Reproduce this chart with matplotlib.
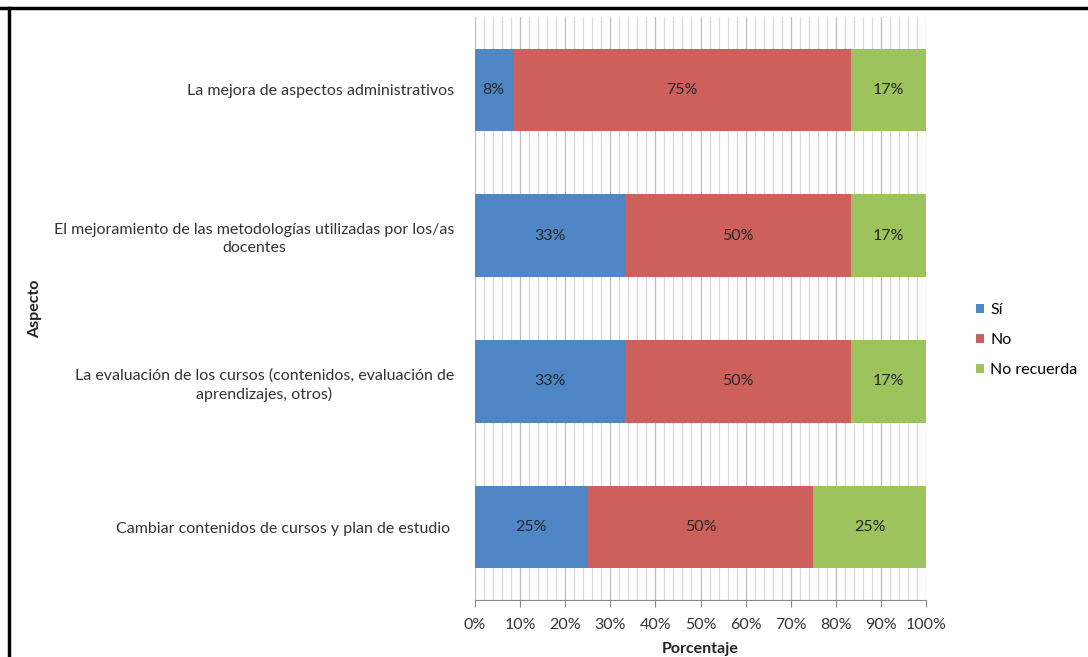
import numpy as np
import matplotlib.pyplot as plt
from matplotlib.lines import Line2D
from matplotlib.ticker import MultipleLocator, PercentFormatter

# datos (porcentajes)
aspectos = [
    'La mejora de aspectos administrativos',
    'El mejoramiento de las metodologías utilizadas por los/as\ndocentes',
    'La evaluación de los cursos (contenidos, evaluación de\naprendizajes, otros)',
    'Cambiar contenidos de cursos y plan de estudio ',
]
si = [8.33, 33.33, 33.33, 25]
no = [75, 50, 50, 50]
no_recuerda = [16.67, 16.67, 16.67, 25]
etiquetas_si = ['8%', '33%', '33%', '25%']
etiquetas_no = ['75%', '50%', '50%', '50%']
etiquetas_nr = ['17%', '17%', '17%', '25%']

plt.rcParams['font.family'] = ['Lato', 'DejaVu Sans']
fs = 11.5

fig = plt.figure(figsize=(10.88, 6.57), dpi=100)
ax = fig.add_axes([475/1088, 1-600/657, 451/1088, 583/657])

y = np.arange(len(aspectos))
alto = 0.565
colores = ['#4F86C6', '#CD605B', '#9DC35C']

series = [(si, 'Sí', etiquetas_si), (no, 'No', etiquetas_no),
          (no_recuerda, 'No recuerda', etiquetas_nr)]
izq = np.zeros(len(aspectos))
for (vals, nombre, etqs), c in zip(series, colores):
    barras = ax.barh(y, vals, left=izq, height=alto, color=c, label=nombre, zorder=3)
    ax.bar_label(barras, labels=etqs, label_type='center', fontsize=fs, color='#262626')
    izq += np.array(vals)

ax.set_xlim(0, 100)
ax.set_ylim(-0.5, 3.5)
ax.invert_yaxis()
ax.set_yticks(y)
ax.set_yticklabels(aspectos, fontsize=fs, color='#333333', multialignment='center',
                   linespacing=1.35)
ax.tick_params(axis='y', length=0, pad=15)

ax.xaxis.set_major_locator(MultipleLocator(10))
ax.xaxis.set_minor_locator(MultipleLocator(2))
ax.xaxis.set_major_formatter(PercentFormatter(decimals=0))
ax.tick_params(axis='x', which='major', length=5, color='#888888', labelsize=fs,
               labelcolor='#333333', pad=8)
ax.tick_params(axis='x', which='minor', length=0)
ax.grid(axis='x', which='major', color='#bdbdbd', linewidth=0.9, zorder=0)
ax.grid(axis='x', which='minor', color='#dadada', linewidth=0.9, zorder=0)

for s in ['top', 'right', 'left']:
    ax.spines[s].set_visible(False)
ax.spines['bottom'].set_color('#888888')

ax.set_xlabel('Porcentaje', fontsize=fs, fontweight='bold', color='#222222', labelpad=7)
ax.set_ylabel('Aspecto', fontsize=fs, fontweight='bold', color='#222222')
ax.yaxis.set_label_coords(-0.96, 0.5)

ax.legend(loc='center left', bbox_to_anchor=(1.08, 0.446), frameon=False, fontsize=fs,
          handlelength=0.5, handleheight=0.5, handletextpad=0.35, labelspacing=1.0)

# marco del documento
fig.add_artist(Line2D([0, 1], [1-8/657, 1-8/657], color='black', linewidth=2.5))
fig.add_artist(Line2D([9/1088, 9/1088], [0, 1-8/657], color='black', linewidth=2.5))

fig.savefig('out.png', dpi=100)
